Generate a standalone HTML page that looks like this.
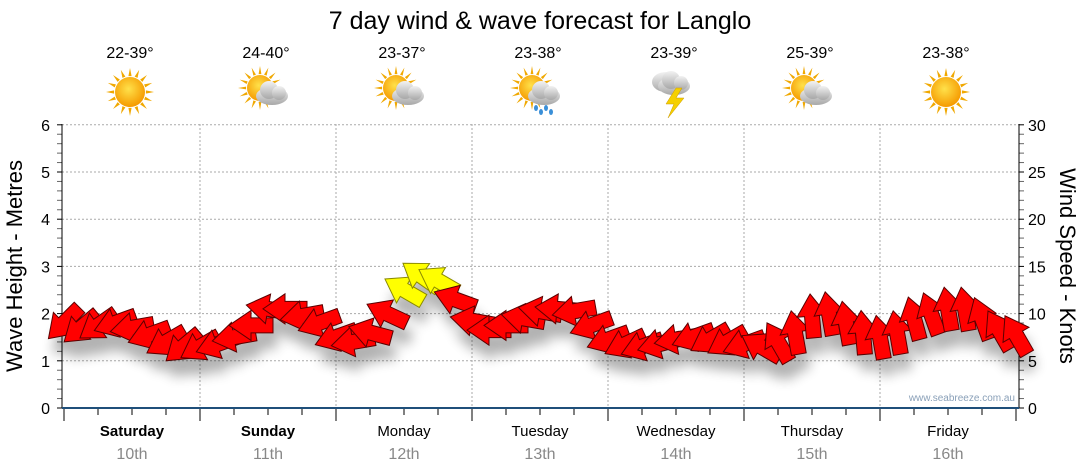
<!DOCTYPE html>
<html><head><meta charset="utf-8"><style>
body{margin:0;background:#fff;font-family:"Liberation Sans","DejaVu Sans",sans-serif}
svg{display:block}
</style></head><body>
<svg id="chart" width="1080" height="475" xmlns="http://www.w3.org/2000/svg" font-family="Liberation Sans, DejaVu Sans, sans-serif">
<defs>
<filter id="blur" x="-50%" y="-50%" width="200%" height="200%"><feGaussianBlur stdDeviation="6"/></filter>
<radialGradient id="sunG" cx="45%" cy="40%" r="60%"><stop offset="0" stop-color="#ffe14a"/><stop offset="1" stop-color="#f59a00"/></radialGradient>
<linearGradient id="cloudG" x1="0" y1="0" x2="0" y2="1"><stop offset="0" stop-color="#f2f2f2"/><stop offset="1" stop-color="#a8a8a8"/></linearGradient>
</defs>
<text x="540" y="29" font-size="25" text-anchor="middle" fill="#000">7 day wind &amp; wave forecast for Langlo</text>
<g id="grid"></g><g id="axes"></g><g id="shadows" filter="url(#blur)" opacity="0.3"></g><g id="arrows"></g><g id="top"></g>
<text transform="translate(22,266) rotate(-90)" font-size="22" text-anchor="middle">Wave Height - Metres</text>
<text transform="translate(1060,266) rotate(90)" font-size="22" text-anchor="middle">Wind Speed - Knots</text>
<text x="1015" y="401" font-size="10" text-anchor="end" fill="#8aa0b8">www.seabreeze.com.au</text>
</svg>
<script>
const days=["Saturday","Sunday","Monday","Tuesday","Wednesday","Thursday","Friday"];
const dates=["10th","11th","12th","13th","14th","15th","16th"];
const temps=["22-39°","24-40°","23-37°","23-38°","23-39°","25-39°","23-38°"];
const weather=["sun","suncloud","suncloud","sunrain","storm","suncloud","sun"];
const leftTicks=[0,1,2,3,4,5,6];
const rightTicks=[0,5,10,15,20,25,30];
// wind speed (knots), 3-hourly
const windKnots=[9,8.5,8.75,9,8.5,7.75,7,6.5, 6.5,6.75,7.5,8.75,10.5,10.5,9.75,9, 7.5,7,8,10,12.5,14,13.5,11.5, 9.25,8.25,8.75,9.5,10.25,10.5,10.25,8.75, 7.25,6.75,6.5,6.75,7.25,7.5,7.25,7, 6.75,6.5,7,8,9.75,10,9,8, 7.5,8,9.5,10,10.5,10.5,9.5,8.25,7.75];
// direction arrow points to (degrees, math convention on screen)
const windDir=[225,220,215,200,190,200,210,220, 210,200,190,180,170,180,190,200, 200,190,165,155,150,145,150,160, 170,180,180,170,170,175,190,200, 200,205,200,195,190,200,210,210, 200,150,120,100,95,100,100,95, 100,100,105,110,100,100,110,120,120];
const X0=64,DAYW=136,Y0=408,PXM=47.2;
const xs=i=>X0+i*DAYW/8, ym=m=>Y0-m*PXM, yk=k=>Y0-k*PXM/5;
const NS="http://www.w3.org/2000/svg";
function mk(p,t,a){const e=document.createElementNS(NS,t);for(const k in a)e.setAttribute(k,a[k]);p.appendChild(e);return e;}
const grid=document.getElementById('grid'),axes=document.getElementById('axes'),top_=document.getElementById('top');
leftTicks.forEach(v=>{
  if(v>0){const g=mk(grid,'line',{x1:62,x2:1019,y1:ym(v),y2:ym(v),stroke:'#aaa','stroke-dasharray':'2,2'});
  
  }
  const t=mk(axes,'text',{x:50,y:ym(v)+6,'font-size':16,'text-anchor':'end'});t.textContent=v;
  
  
});
rightTicks.forEach(v=>{
  const t=mk(axes,'text',{x:1028,y:yk(v)+6,'font-size':16});t.textContent=v;
  
  
});
for(let i=0;i<=30;i++){const y=Y0-i*PXM/5;mk(axes,'line',{x1:57,x2:62,y1:y,y2:y,stroke:i%5?'#666':'#000'});mk(axes,'line',{x1:1019,x2:1024,y1:y,y2:y,stroke:i%5?'#666':'#000'});}
mk(axes,'line',{x1:62,x2:62,y1:124,y2:408,stroke:'#000'});
mk(axes,'line',{x1:1019,x2:1019,y1:124,y2:408,stroke:'#000'});
for(let d=1;d<7;d++){const g=mk(grid,'line',{x1:X0+d*DAYW,x2:X0+d*DAYW,y1:124,y2:408,stroke:'#aaa','stroke-dasharray':'2,2'});
  
  }
for(let i=0;i<=28;i++){const x=X0+i*DAYW/4;mk(axes,'line',{x1:x,x2:x,y1:408,y2:i%4?415:421,stroke:'#000'});}
mk(axes,'line',{x1:62,x2:1019,y1:408,y2:408,stroke:'#1f4f7a','stroke-width':2});
days.forEach((d,i)=>{
  const cx=X0+i*DAYW+68;
  const t=mk(axes,'text',{x:cx,y:436,'font-size':15,'text-anchor':'middle','font-weight':i<2?'bold':'normal'});t.textContent=d;
  
  
  const t2=mk(axes,'text',{x:cx,y:459,'font-size':16,'text-anchor':'middle',fill:'#888'});t2.textContent=dates[i];
  
  
  const t3=mk(top_,'text',{x:cx-2,y:58,'font-size':16,'text-anchor':'middle'});t3.textContent=temps[i];
  
  
  const g=mk(top_,'g',{transform:`translate(${cx-2},92)`});
  
  
  const w=weather[i];
  const sx=w==='sun'?0:-6, sy=w==='sun'?0:-4, r=w==='sun'?15:13;
  if(w!=='storm'){
    for(let k=0;k<16;k++){const a=k*Math.PI/8;mk(g,'polygon',{points:`${sx+Math.cos(a-0.1)*(r+1)},${sy+Math.sin(a-0.1)*(r+1)} ${sx+Math.cos(a)*(r+9)},${sy+Math.sin(a)*(r+9)} ${sx+Math.cos(a+0.1)*(r+1)},${sy+Math.sin(a+0.1)*(r+1)}`,fill:'#f0a800'});}
    mk(g,'circle',{cx:sx,cy:sy,r:r,fill:'url(#sunG)'});
  }
  if(w!=='sun'){
    const cy=w==='storm'?-6:4, cx2=w==='storm'?0:6;
    if(w==='storm'){mk(g,'ellipse',{cx:-8,cy:-10,rx:14,ry:10,fill:'url(#cloudG)'});}
    mk(g,'ellipse',{cx:cx2,cy:cy,rx:16,ry:9,fill:'url(#cloudG)'});
    mk(g,'circle',{cx:cx2-3,cy:cy-6,r:9,fill:'url(#cloudG)'});
    mk(g,'circle',{cx:cx2+7,cy:cy-3,r:7,fill:'url(#cloudG)'});
    if(w==='sunrain'){for(let k=0;k<4;k++)mk(g,'ellipse',{cx:cx2-8+k*5,cy:cy+12+(k%2)*4,rx:2,ry:3,fill:'#3a8fd8'});}
    if(w==='storm'){mk(g,'polygon',{points:'2,-4 -8,12 0,12 -6,26 10,6 2,6 8,-4',fill:'#f5d000',stroke:'#c90','stroke-width':0.5});}
  }
});
const sh=document.getElementById('shadows'),ar=document.getElementById('arrows');
const shape="-22,-7.5 0,-7.5 0,-15 22,0 0,15 0,7.5 -22,7.5";
windKnots.forEach((k,i)=>{
  const x=xs(i),y=yk(k),a=-windDir[i];
  mk(sh,'polygon',{points:shape,fill:'#000',transform:`translate(${x+4},${y+16}) rotate(${a})`});
  const p=mk(ar,'polygon',{points:shape,fill:k>=12.5?'#ffff00':'#ff0000',stroke:k>=12.5?'#8a8a00':'#5a0000','stroke-width':1,transform:`translate(${x},${y}) rotate(${a})`});
  
  
});
</script>
</body></html>
